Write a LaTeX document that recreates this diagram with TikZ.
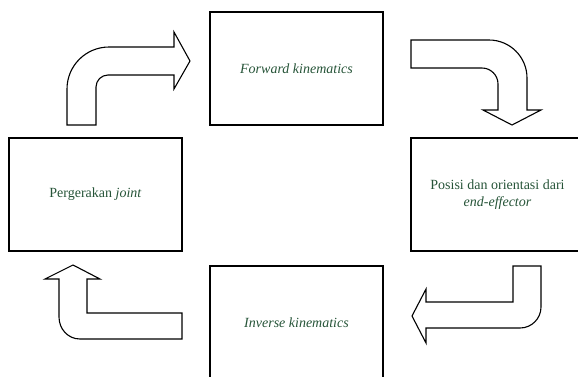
\documentclass[tikz,border=0pt]{standalone}
\usepackage{fontspec}
\setmainfont{Liberation Serif}
\definecolor{txtgreen}{RGB}{38,84,56}
\begin{document}
\begin{tikzpicture}[x=1pt,y=-1pt,
  box/.style={draw=black,line width=1.1pt,rectangle,minimum width=173pt,minimum height=113pt,inner sep=0pt,
    text=txtgreen,font=\fontsize{14}{17}\selectfont,align=center},
  blockarrow/.style={draw=black,line width=1.1pt,fill=white,line join=miter}]
\useasboundingbox (0,0) rectangle (578,376);
\clip (0,0) rectangle (578,376);
\node[box] (fk) at (296.5,68.5) {\itshape Forward kinematics};
\node[box] (pj) at (95.5,194.5) {Pergerakan \textit{joint}};
\node[box] (pe) at (497.5,194.5) {Posisi dan orientasi dari\\ \textit{end-effector}};
\node[box] (ik) at (296.5,322.5) {\itshape Inverse kinematics};
% arrow: joint -> forward
\draw[blockarrow] (67,125) -- (67,89) .. controls (67,65.8) and (85.8,47) .. (109,47)
  -- (174,47) -- (174,32) -- (190,61) -- (174,89) -- (174,75) -- (108,75)
  .. controls (101.4,75) and (96,80.4) .. (96,87) -- (96,125) -- cycle;
% arrow: forward -> posisi
\draw[blockarrow] (411,40) -- (489,40) .. controls (510,40) and (527,57) .. (527,78)
  -- (527,110) -- (541,110) -- (512,125) -- (483,110) -- (498,110) -- (498,84)
  .. controls (498,75.2) and (490.8,68) .. (482,68) -- (411,68) -- cycle;
% arrow: posisi -> inverse
\draw[blockarrow] (513,266) -- (541,266) -- (541,307) .. controls (541,318.6) and (531.6,328) .. (520,328)
  -- (426,328) -- (426,343) -- (412,316) -- (426,289) -- (426,302) -- (513,302) -- cycle;
% arrow: inverse -> joint
\draw[blockarrow] (182,313) -- (87,313) -- (87,279) -- (100,279) -- (73,265) -- (45,279) -- (59,279)
  -- (59,317) .. controls (59,329) and (68,339) .. (80,339) -- (182,339) -- cycle;
\end{tikzpicture}
\end{document}
